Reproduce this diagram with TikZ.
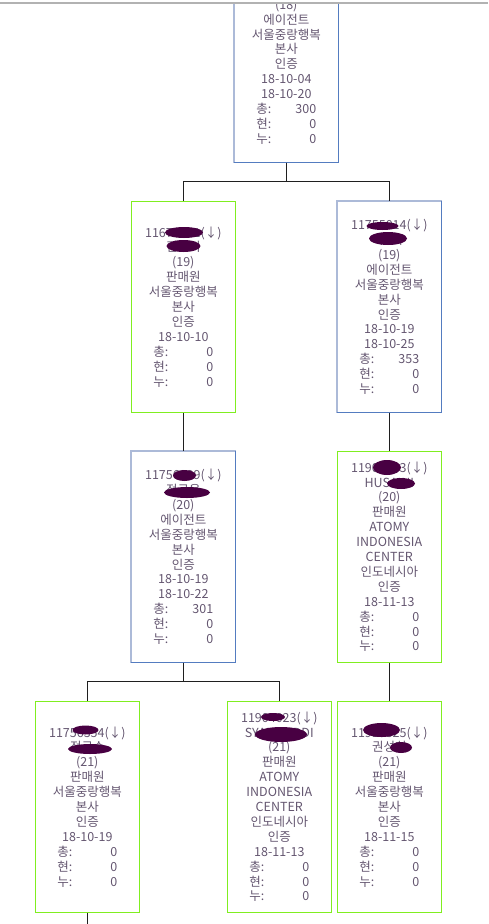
\documentclass[tikz,border=0pt]{standalone}
\usepackage{fontspec}
\newfontfamily\kr{Noto Sans CJK KR}
\definecolor{txtgray}{RGB}{100,86,112}
\definecolor{boxgreen}{RGB}{128,238,32}
\definecolor{boxblue}{RGB}{84,124,192}
\definecolor{boxpale}{RGB}{172,186,216}
\definecolor{blobpurple}{RGB}{72,0,66}
\newcommand{\statrow}[2]{\makebox[60pt]{#1:\hfill #2}}

\begin{document}
\begin{tikzpicture}[x=1pt, y=-1pt,
    every node/.style={font=\kr\fontsize{12.5}{14.9}\selectfont, text=txtgray},
    card/.style={minimum width=104pt, minimum height=211pt, inner sep=0pt,
                 align=center},
    sales/.style={card, draw=boxgreen, line width=1.3pt},
    agent/.style={card},
    link/.style={draw=black!88, line width=1.5pt},
    blob/.style={fill=blobpurple}
]
\useasboundingbox (0,0) rectangle (488,924);
\begin{scope}
\clip (0,3.5) rectangle (488,924);
% level 18
\node[agent] (top) at (286.3,56.8) {\vphantom{(18)}\\\vphantom{(18)}\\(18)\\에이전트\\서울중랑행복\\본사\\인증\\18-10-04\\18-10-20\\\statrow{총}{300}\\\statrow{현}{0}\\\statrow{누}{0}};
% level 19
\node[sales] (l1) at (183.3,306.8) {11677781(↓)\\김민지\\(19)\\판매원\\서울중랑행복\\본사\\인증\\18-10-10\\\statrow{총}{0}\\\statrow{현}{0}\\\statrow{누}{0}};
\node[agent] (r1) at (389.3,306.8) {11755014(↓)\\이현우\\(19)\\에이전트\\서울중랑행복\\본사\\인증\\18-10-19\\18-10-25\\\statrow{총}{353}\\\statrow{현}{0}\\\statrow{누}{0}};
% level 20
\node[agent] (l2) at (183.3,556.8) {11756209(↓)\\정규옥\\(20)\\에이전트\\서울중랑행복\\본사\\인증\\18-10-19\\18-10-22\\\statrow{총}{301}\\\statrow{현}{0}\\\statrow{누}{0}};
\node[sales] (r2) at (389.3,556.8) {11904303(↓)\\HUSAINI\\(20)\\판매원\\ATOMY\\INDONESIA\\CENTER\\인도네시아\\인증\\18-11-13\\\statrow{총}{0}\\\statrow{현}{0}\\\statrow{누}{0}};
% level 21
\node[sales] (b1) at (87.3,806.8) {11756354(↓)\\정구수\\(21)\\판매원\\서울중랑행복\\본사\\인증\\18-10-19\\\statrow{총}{0}\\\statrow{현}{0}\\\statrow{누}{0}};
\node[sales] (b2) at (279.3,806.8) {11904023(↓)\\SYAMSUDDI\\(21)\\판매원\\ATOMY\\INDONESIA\\CENTER\\인도네시아\\인증\\18-11-13\\\statrow{총}{0}\\\statrow{현}{0}\\\statrow{누}{0}};
\node[sales] (b3) at (389.3,806.8) {11910325(↓)\\권성희\\(21)\\판매원\\서울중랑행복\\본사\\인증\\18-11-15\\\statrow{총}{0}\\\statrow{현}{0}\\\statrow{누}{0}};

% two-tone borders of the agent boxes
\foreach \b in {top,r1,l2} {
  \draw[boxpale, line width=1.3pt] (\b.south west) -- (\b.north west) -- (\b.north east);
  \draw[boxblue, line width=1.3pt] (\b.north east) -- (\b.south east) -- (\b.south west);
}

% connectors
\coordinate (tail) at (87.3,924);
\draw[link] (top.south) -- ++(0,19) -| (l1.north);
\draw[link] (top.south) -- ++(0,19) -| (r1.north);
\draw[link] (l1.south) -- (l2.north);
\draw[link] (r1.south) -- (r2.north);
\draw[link] (l2.south) -- ++(0,19) -| (b1.north);
\draw[link] (l2.south) -- ++(0,19) -| (b2.north);
\draw[link] (r2.south) -- (b3.north);
\draw[link] (b1.south) -- (tail);

% masked ids and names
\fill[blob] (184,232.5) ellipse (19 and 5.5);
\fill[blob] (183.5,246) ellipse (17 and 6);
\fill[blob] (382.5,226) ellipse (16 and 4);
\fill[blob] (388,238.5) ellipse (19 and 6.5);
\fill[blob] (184.5,475.5) ellipse (11.5 and 5.5);
\fill[blob] (187,492.5) ellipse (23 and 5.5);
\fill[blob] (387,467.5) ellipse (14 and 7.5);
\fill[blob] (401,483.5) ellipse (14 and 5.5);
\fill[blob] (85.5,730) ellipse (13 and 4.5);
\fill[blob] (90,749) ellipse (22 and 5);
\fill[blob] (273,717) ellipse (12 and 4);
\fill[blob] (281,734.5) ellipse (26 and 7.5);
\fill[blob] (381.5,730) ellipse (18.5 and 7);
\fill[blob] (401,747.5) ellipse (11 and 5.5);
\end{scope}
% window edge
\draw[black!30, line width=1.3pt] (0,3) -- (488,3);
\end{tikzpicture}
\end{document}
